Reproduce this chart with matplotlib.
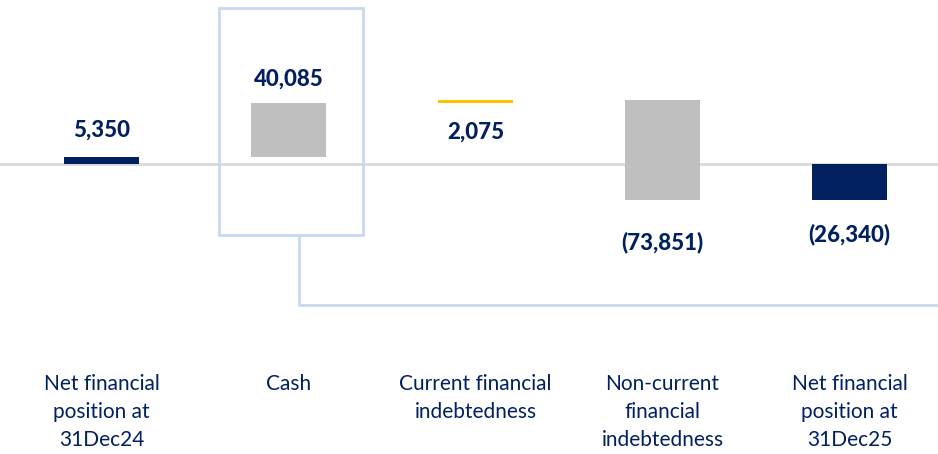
import matplotlib.pyplot as plt
from matplotlib.patches import Rectangle

categories = ['Net financial\nposition at\n31Dec24', 'Cash', 'Current financial\nindebtedness',
              'Non-current\nfinancial\nindebtedness', 'Net financial\nposition at\n31Dec25']
values = [5350, 40085, 2075, -73851, -26340]
labels = ['5,350', '40,085', '2,075', '(73,851)', '(26,340)']
is_total = [True, False, False, False, True]

navy = '#002060'
grey = '#BFBFBF'
yellow = '#FFC000'
light_blue = '#C6D9F1'
bar_colors = [navy, grey, yellow, grey, navy]
# label offset in points from the bar end (positive = up)
label_offsets = [19, 17, -21, -31, -25]

plt.rcParams['font.family'] = ['Lato', 'DejaVu Sans']

fig = plt.figure(figsize=(9.38, 4.54), dpi=100)
ax = fig.add_axes([0, 0, 1, 1])
ax.axis('off')

# scale: 1.35 px per thousand, zero line at 164 px from top
px_per_k = 1.35
ax.set_ylim(-(454 - 164) / px_per_k * 1000, 164 / px_per_k * 1000)
ax.set_xlim(-101.5 / 187, (938 - 101.5) / 187)

# waterfall bottoms
bottoms = []
heights = []
running = 0
for v, tot in zip(values, is_total):
    if tot:
        bottoms.append(0)
        heights.append(v)
        running = v
    else:
        bottoms.append(running)
        heights.append(v)
        running += v

x = list(range(len(categories)))
ax.axhline(0, color='#D9D9D9', lw=2, zorder=1)
ax.bar(x, heights, bottom=bottoms, width=0.4, color=bar_colors, zorder=2)

for i in x:
    top = bottoms[i] + heights[i]
    end = max(bottoms[i], top) if label_offsets[i] > 0 else min(bottoms[i], top)
    ax.annotate(labels[i], (i, end), xytext=(0, label_offsets[i]), textcoords='offset points',
                ha='center', va='center', fontsize=16, fontweight='black', color=navy)

# category labels under the chart
for i in x:
    ax.text(i, 0.177, categories[i], transform=ax.get_xaxis_transform(), ha='center', va='top',
            fontsize=15, color=navy, linespacing=1.5, multialignment='center')

# highlight box around Cash and connector line
box_l = (219 - 101.5) / 187
box_r = (363 - 101.5) / 187
box_t = (164 - 8) / px_per_k * 1000
box_b = -(235 - 164) / px_per_k * 1000
ax.add_patch(Rectangle((box_l, box_b), box_r - box_l, box_t - box_b, fill=False,
                       edgecolor=light_blue, lw=2, zorder=3))
conn_x = (299 - 101.5) / 187
conn_y = -(305 - 164) / px_per_k * 1000
ax.plot([conn_x, conn_x, ax.get_xlim()[1]], [box_b, conn_y, conn_y], color=light_blue, lw=2,
        zorder=3, solid_capstyle='butt')

fig.savefig('out.png', dpi=100)
